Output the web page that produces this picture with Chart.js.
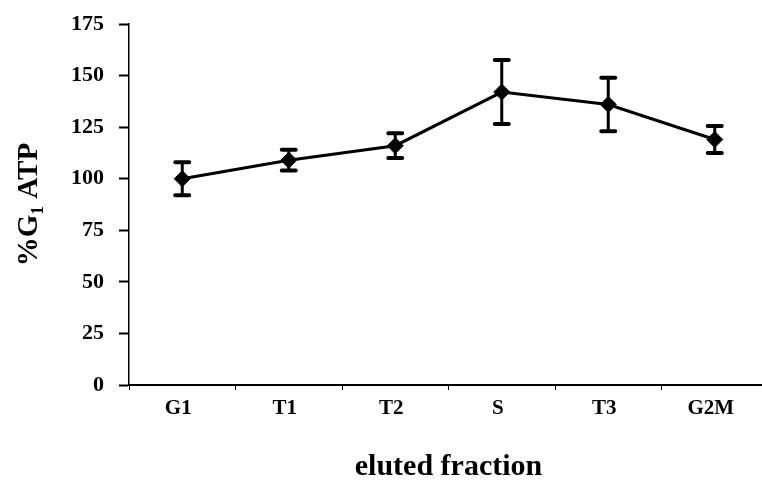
<!DOCTYPE html>
<html>
<head>
    <title>ATP by fraction</title>
    <script src="https://cdn.jsdelivr.net/npm/chart.js"></script>
    <style>
        body { margin: 0; background: white; overflow: hidden; }
        /* the x axis runs a little past the right edge */
        #wrap { width: 762px; height: 489px; overflow: hidden; }
    </style>
</head>
<body>
    <div id="wrap"><canvas id="atpChart" width="768" height="489"></canvas></div>
</body>
</html>

<script>
    // fractions and mean %G1 ATP with error (+/-)
    const fractions = ['G1', 'T1', 'T2', 'S', 'T3', 'G2M'];
    const atpValues = [100, 109, 116, 142, 136, 119];
    const atpErrors = [8, 5, 6, 15.5, 13, 6.5];
    const yTicks = [0, 25, 50, 75, 100, 125, 150, 175];

    const serif = '"Liberation Serif", "Times New Roman", serif';

    // draws vertical error bars with caps under the markers
    const errorBars = {
        id: 'errorBars',
        beforeDatasetsDraw(chart) {
            const ctx = chart.ctx;
            const x = chart.scales.x;
            const y = chart.scales.y;
            ctx.save();
            ctx.strokeStyle = '#000';
            ctx.lineCap = 'round';
            atpValues.forEach((v, i) => {
                const px = x.getPixelForValue(i);
                const top = y.getPixelForValue(v + atpErrors[i]);
                const bot = y.getPixelForValue(v - atpErrors[i]);
                ctx.lineWidth = 3;
                ctx.beginPath();
                ctx.moveTo(px, top);
                ctx.lineTo(px, bot);
                ctx.stroke();
                ctx.lineWidth = 4;
                ctx.beginPath();
                ctx.moveTo(px - 7, top);
                ctx.lineTo(px + 7, top);
                ctx.moveTo(px - 7, bot);
                ctx.lineTo(px + 7, bot);
                ctx.stroke();
            });
            ctx.restore();
        }
    };

    const ctx = document.getElementById('atpChart').getContext('2d');
    const chart = new Chart(ctx, {
        type: 'line',
        data: {
            labels: fractions,
            datasets: [{
                data: atpValues,
                borderColor: '#000',
                backgroundColor: '#000',
                borderWidth: 3,
                pointStyle: 'rectRot',
                pointRadius: 8,
                pointBorderWidth: 1,
                tension: 0
            }]
        },
        options: {
            responsive: false,
            animation: false,
            layout: { autoPadding: false, padding: { top: 24, right: 0, left: 0, bottom: 0 } },
            plugins: {
                legend: { display: false },
                tooltip: { enabled: false }
            },
            scales: {
                x: {
                    offset: true,
                    grid: {
                        offset: true,
                        drawOnChartArea: false,
                        color: '#000',
                        tickLength: 5,
                        tickWidth: 1
                    },
                    border: { color: '#000', width: 2 },
                    ticks: {
                        color: '#000',
                        padding: 6,
                        labelOffset: -4,
                        font: { family: serif, size: 21, weight: 'bold' }
                    },
                    title: {
                        display: true,
                        text: 'eluted fraction',
                        color: '#000',
                        padding: { top: 10, bottom: 4 },
                        font: { family: serif, size: 30, weight: 'bold' }
                    },
                    afterFit(scale) {
                        scale.height = 104;
                        scale.paddingLeft = 0;
                        scale.paddingRight = 0;
                    }
                },
                y: {
                    min: 0,
                    max: 175,
                    afterBuildTicks(scale) {
                        scale.ticks = yTicks.map(v => ({ value: v }));
                    },
                    grid: {
                        drawOnChartArea: false,
                        color: '#000',
                        tickLength: 10,
                        tickWidth: 2
                    },
                    border: { color: '#000', width: 1.5 },
                    ticks: {
                        color: '#000',
                        padding: 15,
                        font: { family: serif, size: 22, weight: 'bold' }
                    },
                    title: {
                        display: true,
                        text: '%G\u2081 ATP',
                        color: '#000',
                        padding: { top: 12, bottom: 0 },
                        font: { family: serif, size: 29, weight: 'bold' }
                    },
                    afterFit(scale) {
                        scale.width = 129;
                        scale.paddingTop = 0;
                        scale.paddingBottom = 0;
                    }
                }
            }
        },
        plugins: [errorBars]
    });
</script>
